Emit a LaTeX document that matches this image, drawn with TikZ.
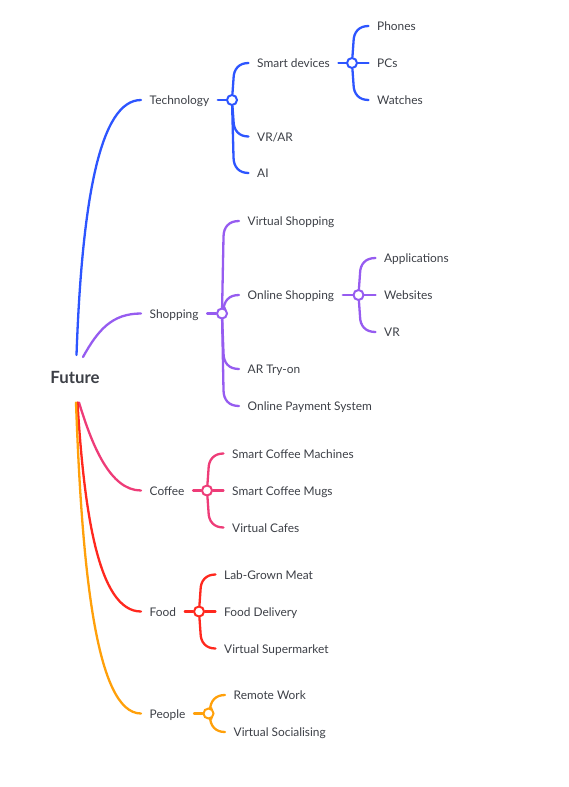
\documentclass[tikz,border=0pt]{standalone}
\usepackage{fontspec}
\setmainfont{Lato}
\usetikzlibrary{calc,backgrounds}
\definecolor{cblue}{RGB}{45,85,255}
\definecolor{cpurple}{RGB}{150,92,240}
\definecolor{cpink}{RGB}{238,60,120}
\definecolor{cred}{RGB}{255,40,30}
\definecolor{corange}{RGB}{255,160,10}
\definecolor{txt}{RGB}{60,63,70}
\tikzset{
  lbl/.style={font=\fontsize{11.9}{14}\selectfont, text=txt, inner xsep=8.5pt, inner ysep=2pt, text height=0.92em, text depth=0pt, anchor=west},
  rootlbl/.style={font=\bfseries\fontsize{16.8}{19}\selectfont, text=txt, inner sep=0pt, text height=0.85em, text depth=0pt},
  hub/.style={circle, draw, fill=white, line width=2pt, minimum size=10pt, inner sep=0pt},
  br/.style={line width=2.3pt, line cap=round},
  bup/.style={to path={-- ($(\tikztostart |- \tikztotarget)+(1.5,16)$) .. controls ($(\tikztostart |- \tikztotarget)+(1.5,6)$) and ($(\tikztostart |- \tikztotarget)+(7,0)$) .. (\tikztotarget)}},
  bdown/.style={to path={-- ($(\tikztostart |- \tikztotarget)+(1.5,-16)$) .. controls ($(\tikztostart |- \tikztotarget)+(1.5,-6)$) and ($(\tikztostart |- \tikztotarget)+(7,0)$) .. (\tikztotarget)}}
}
\begin{document}
\begin{tikzpicture}[x=1pt,y=-1pt]
\useasboundingbox (0,0) rectangle (568,787);
% root
\node[rootlbl] (root) at (75,379.5) {Future};
\coordinate (rtop) at (76.5,355);
\coordinate (rtop2) at (83,357);
\coordinate (rbot1) at (79,402.5);
\coordinate (rbot2) at (77.5,402.5);
\coordinate (rbot3) at (76,402.5);
% level 1
\node[lbl] (tech) at (141,100) {Technology};
\node[lbl] (shop) at (141,313.5) {Shopping};
\node[lbl] (coffee) at (141,490.5) {Coffee};
\node[lbl] (food) at (141,611.5) {Food};
\node[lbl] (people) at (141,713.5) {People};
% hubs
\node[hub,draw=cblue] (ht) at (232,100) {};
\node[hub,draw=cblue] (hsd) at (352,63) {};
\node[hub,draw=cpurple] (hs) at (222,313.5) {};
\node[hub,draw=cpurple] (hos) at (358.5,295) {};
\node[hub,draw=cpink] (hc) at (207,490.5) {};
\node[hub,draw=cred] (hf) at (199,611.5) {};
\node[hub,draw=corange] (hp) at (208.5,713.5) {};
% technology children
\node[lbl] (sd) at (248.5,63) {Smart devices};
\node[lbl] (vrar) at (248.5,136.5) {VR/AR};
\node[lbl] (ai) at (248.5,173) {AI};
\node[lbl] (phones) at (368.5,26) {Phones};
\node[lbl] (pcs) at (368.5,63) {PCs};
\node[lbl] (watches) at (368.5,100) {Watches};
% shopping children
\node[lbl] (vs) at (239,221) {Virtual Shopping};
\node[lbl] (os) at (239,295) {Online Shopping};
\node[lbl] (art) at (239,369) {AR Try-on};
\node[lbl] (ops) at (239,406) {Online Payment System};
\node[lbl] (apps) at (375.5,258) {Applications};
\node[lbl] (web) at (375.5,295) {Websites};
\node[lbl] (vr) at (375.5,332) {VR};
% coffee children
\node[lbl] (scm) at (223.5,453.5) {Smart Coffee Machines};
\node[lbl] (scmug) at (223.5,490.5) {Smart Coffee Mugs};
\node[lbl] (vc) at (223.5,527.5) {Virtual Cafes};
% food children
\node[lbl] (lgm) at (215.5,574.5) {Lab-Grown Meat};
\node[lbl] (fd) at (215.5,611.5) {Food Delivery};
\node[lbl] (vsm) at (215.5,648.5) {Virtual Supermarket};
% people children
\node[lbl] (rw) at (225,695) {Remote Work};
\node[lbl] (vsoc) at (225,732) {Virtual Socialising};

\begin{scope}[on background layer]
% root curves
\draw[br,cblue] (rtop) .. controls (82,200) and (100,100) .. (tech.west);
\draw[br,cpurple] (rtop2) .. controls (98,330) and (112,313.5) .. (shop.west);
\draw[br,cpink] (rbot1) .. controls (92,445) and (110,490.5) .. (coffee.west);
\draw[br,cred] (rbot2) .. controls (84,510) and (98,611.5) .. (food.west);
\draw[br,corange] (rbot3) .. controls (82,570) and (96,713.5) .. (people.west);
% technology
\draw[br,cblue] (tech.east) -- (ht);
\draw[br,cblue] (ht) to[bup] (sd.west);
\draw[br,cblue] (ht) to[bdown] (vrar.west);
\draw[br,cblue] (ht) to[bdown] (ai.west);
\draw[br,cblue] (sd.east) -- (hsd);
\draw[br,cblue] (hsd) to[bup] (phones.west);
\draw[br,cblue] (hsd) -- (pcs.west);
\draw[br,cblue] (hsd) to[bdown] (watches.west);
% shopping
\draw[br,cpurple] (shop.east) -- (hs);
\draw[br,cpurple] (hs) to[bup] (vs.west);
\draw[br,cpurple] (hs) to[bup] (os.west);
\draw[br,cpurple] (hs) to[bdown] (art.west);
\draw[br,cpurple] (hs) to[bdown] (ops.west);
\draw[br,cpurple] (os.east) -- (hos);
\draw[br,cpurple] (hos) to[bup] (apps.west);
\draw[br,cpurple] (hos) -- (web.west);
\draw[br,cpurple] (hos) to[bdown] (vr.west);
% coffee
\draw[br,cpink] (coffee.east) -- (hc);
\draw[br,cpink] (hc) to[bup] (scm.west);
\draw[br,cpink] (hc) -- (scmug.west);
\draw[br,cpink] (hc) to[bdown] (vc.west);
% food
\draw[br,cred] (food.east) -- (hf);
\draw[br,cred] (hf) to[bup] (lgm.west);
\draw[br,cred] (hf) -- (fd.west);
\draw[br,cred] (hf) to[bdown] (vsm.west);
% people
\draw[br,corange] (people.east) -- (hp);
\draw[br,corange] (hp) to[bup] (rw.west);
\draw[br,corange] (hp) to[bdown] (vsoc.west);
\end{scope}
\end{tikzpicture}
\end{document}
